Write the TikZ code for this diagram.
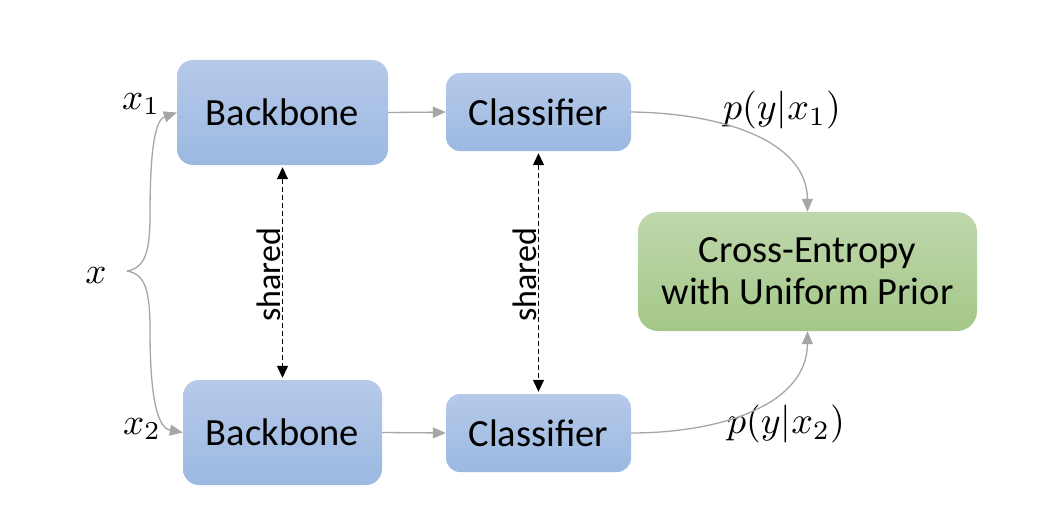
\documentclass[tikz,border=0pt]{standalone}
\usepackage{fontspec}
\setmainfont{Carlito}
\usetikzlibrary{arrows.meta}
\definecolor{bluetop}{RGB}{182,201,233}
\definecolor{bluebot}{RGB}{155,185,225}
\definecolor{greentop}{RGB}{191,215,172}
\definecolor{greenbot}{RGB}{164,200,136}
\definecolor{conn}{RGB}{166,166,166}
\tikzset{
  bluebox/.style={rounded corners=16pt, top color=bluetop, bottom color=bluebot, draw=none,
    font=\fontsize{38.5}{42}\selectfont, inner sep=0pt},
  greenbox/.style={rounded corners=20pt, top color=greentop, bottom color=greenbot, draw=none,
    font=\fontsize{38.5}{42}\selectfont, inner sep=0pt, align=center},
  flow/.style={draw=conn, line width=1.3pt, -{Triangle[length=13pt,width=11pt]}, conn},
  sharedarrow/.style={draw=black, line width=1.3pt, dash pattern=on 5pt off 3pt,
    {Triangle[length=12pt,width=11pt]}-{Triangle[length=12pt,width=11pt]}, shorten <=2pt, shorten >=2pt},
  sharedlabel/.style={rotate=90, anchor=south, inner sep=1.5pt, font=\fontsize{34}{38}\selectfont, text=black, pos=0.51},
  mathlabel/.style={scale=3.7, inner sep=0pt},
  plabel/.style={scale=3.8, inner sep=0pt}
}
\begin{document}
\begin{tikzpicture}[x=1pt,y=-1pt]
\useasboundingbox[fill=white] (0,0) rectangle (1040,508);
\node[bluebox, minimum width=211pt, minimum height=105pt] (b1) at (282.5,112.5) {Backbone};
\node[bluebox, minimum width=199pt, minimum height=105pt] (b2) at (282.5,432.5) {Backbone};
\node[bluebox, rounded corners=14pt, minimum width=185pt, minimum height=78pt] (c1) at (538.5,112) {Classifier};
\node[bluebox, rounded corners=14pt, minimum width=185pt, minimum height=78pt] (c2) at (538.5,433) {Classifier};
\node[greenbox, minimum width=339pt, minimum height=119pt] (ce) at (807.5,271.5) {Cross-Entropy\\with Uniform Prior};

\node[mathlabel] (x) at (96,276) {$x$};
\node[mathlabel] (x1) at (141,104) {$x_1$};
\node[mathlabel] (x2) at (142,429) {$x_2$};
\node[plabel] (p1) at (782,110) {$p(y|x_1)$};
\node[plabel] (p2) at (786,424) {$p(y|x_2)$};

\coordinate (xs) at (127,271);
\draw[flow] (xs) .. controls (145,268) and (150,252) .. (150,215) .. controls (150,150) and (155,120) .. (b1.west);
\draw[flow] (xs) .. controls (145,274) and (150,290) .. (150,330) .. controls (150,400) and (158,428) .. (b2.west);

\draw[flow] (b1.east) -- (c1.west);
\draw[flow] (b2.east) -- (c2.west);

\draw[flow] (c1.east) .. controls (720,113) and (807,140) .. (ce.north);
\draw[flow] (c2.east) .. controls (720,433) and (807,405) .. (ce.south);

\draw[sharedarrow] (b1.south) -- node[sharedlabel] {shared} (b2.north);
\draw[sharedarrow] (c1.south) -- node[sharedlabel] {shared} (c2.north);
\end{tikzpicture}
\end{document}
